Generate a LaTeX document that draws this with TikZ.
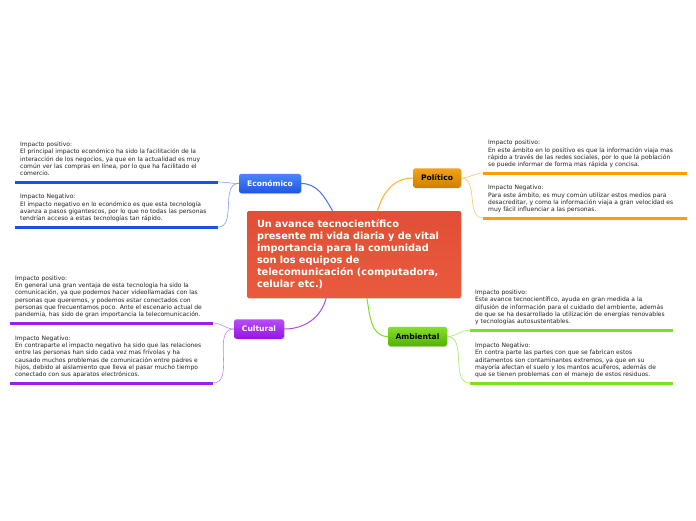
\documentclass[tikz,border=0pt]{standalone}
\usepackage{fontspec}
\setmainfont{DejaVu Sans}
\usetikzlibrary{calc,shadows}
\definecolor{hubtop}{HTML}{E24E37}
\definecolor{hubbot}{HTML}{EA5A3E}
\definecolor{ecotop}{HTML}{4A86FA}
\definecolor{ecobot}{HTML}{1F55E6}
\definecolor{poltop}{HTML}{F2A21C}
\definecolor{polbot}{HTML}{D27F00}
\definecolor{cultop}{HTML}{B84CFA}
\definecolor{culbot}{HTML}{9414E6}
\definecolor{ambtop}{HTML}{86E02A}
\definecolor{ambbot}{HTML}{55B000}
\definecolor{ecoline}{HTML}{1E4FE8}
\definecolor{polline}{HTML}{FF9C00}
\definecolor{culline}{HTML}{9C1EEC}
\definecolor{ambline}{HTML}{7BE21F}
\definecolor{ink}{HTML}{222222}
\tikzset{
  hub/.style={top color=hubtop, bottom color=hubbot, draw=none, rounded corners=1.5pt, text=white, align=left,
    font=\fontsize{9.8}{12}\selectfont\bfseries, minimum width=214pt, minimum height=87pt, text width=194pt, inner xsep=10pt,
    drop shadow={opacity=0.25, shadow xshift=0.8pt, shadow yshift=-0.8pt}},
  branch/.style={draw=none, rounded corners=2.5pt, inner sep=0pt, minimum height=19.5pt,
    font=\fontsize{7.6}{9}\selectfont\bfseries, drop shadow={opacity=0.25, shadow xshift=0.8pt, shadow yshift=-0.8pt}},
  leaf/.style={font=\fontsize{6}{7.25}\selectfont, text=ink, align=left, anchor=south west, inner xsep=5pt, inner ysep=4pt,
    execute at end node={\strut}},
  ul/.style={line width=3pt},
  link/.style={line width=1pt},
  twig/.style={line width=0.6pt},
}
\begin{document}
\begin{tikzpicture}[x=1pt, y=-1pt]
  \fill[white] (0,0) rectangle (696,520);
  \useasboundingbox (0,0) rectangle (696,520);
  % centre
  \node[hub] (hub) at (354,254.5) {Un avance tecnocientífico\\presente mi vida diaria y de vital\\importancia para la comunidad\\son los equipos de\\telecomunicación (computadora,\\celular etc.)};
  \coordinate (hub-eco) at ($(hub.north west)!0.40!(hub.north east)$);
  \coordinate (hub-pol) at ($(hub.north west)!0.61!(hub.north east)$);
  \coordinate (hub-cul) at ($(hub.south west)!0.37!(hub.south east)$);
  \coordinate (hub-amb) at ($(hub.south west)!0.56!(hub.south east)$);
  % branches
  \node[branch, top color=ecotop, bottom color=ecobot, text=white, minimum width=62pt] (eco) at (270,183.5) {Económico};
  \node[branch, top color=poltop, bottom color=polbot, text=black, minimum width=48pt] (pol) at (437,178) {Político};
  \node[branch, top color=cultop, bottom color=culbot, text=white, minimum width=50pt] (cul) at (259,329) {Cultural};
  \node[branch, top color=ambtop, bottom color=ambbot, text=black, minimum width=59pt] (amb) at (417.5,336.5) {Ambiental};
  % leaves: económico
  \node[leaf] (ep) at (15,182) {Impacto positivo:\\El principal impacto económico ha sido la facilitación de la\\interacción de los negocios, ya que en la actualidad es muy\\común ver las compras en línea, por lo que ha facilitado el\\comercio.};
  \node[leaf] (en) at (15,227) {Impacto Negativo:\\El impacto negativo en lo económico es que esta tecnología\\avanza a pasos gigantescos, por lo que no todas las personas\\tendrían acceso a estas tecnologías tan rápido.};
  % leaves: político
  \node[leaf] (pp) at (483,173) {Impacto positivo:\\En este ámbito en lo positivo es que la información viaja mas\\rápido a través de las redes sociales, por lo que la población\\se puede informar de forma mas rápida y concisa.};
  \node[leaf] (pn) at (483,218) {Impacto Negativo:\\Para este ámbito, es muy común utilizar estos medios para\\desacreditar, y como la información viaja a gran velocidad es\\muy fácil influenciar a las personas.};
  % leaves: cultural
  \node[leaf] (cp) at (10,323) {Impacto positivo:\\En general una gran ventaja de esta tecnología ha sido la\\comunicación, ya que podemos hacer videollamadas con las\\personas que queremos, y podemos estar conectados con\\personas que frecuentamos poco. Ante el escenario actual de\\pandemia, has sido de gran importancia la telecomunicación.};
  \node[leaf] (cn) at (10,383) {Impacto Negativo:\\En contraparte el impacto negativo ha sido que las relaciones\\entre las personas han sido cada vez mas frívolas y ha\\causado muchos problemas de comunicación entre padres e\\hijos, debido al aislamiento que lleva el pasar mucho tiempo\\conectado con sus aparatos electrónicos.};
  % leaves: ambiental
  \node[leaf] (ap) at (470,330) {Impacto positivo:\\Este avance tecnocientífico, ayuda en gran medida a la\\difusión de información para el cuidado del ambiente, además\\de que se ha desarrollado la utilización de energías renovables\\y tecnologías autosustentables.};
  \node[leaf] (an) at (470,383) {Impacto Negativo:\\En contra parte las partes con que se fabrican estos\\aditamentos son contaminantes extremos, ya que en su\\mayoría afectan el suelo y los mantos acuíferos, además de\\que se tienen problemas con el manejo de estos residuos.};
  % underlines
  \draw[ul, ecoline] (ep.south west) -- ++(203,0) coordinate (ep-e);
  \draw[ul, ecoline] (en.south west) -- ++(203,0) coordinate (en-e);
  \draw[ul, polline] (pp.south west) -- ++(204,0);
  \draw[ul, polline] (pn.south west) -- ++(204,0);
  \draw[ul, culline] (cp.south west) -- ++(203,0) coordinate (cp-e);
  \draw[ul, culline] (cn.south west) -- ++(203,0) coordinate (cn-e);
  \draw[ul, ambline] (ap.south west) -- ++(203,0);
  \draw[ul, ambline] (an.south west) -- ++(203,0);
  % links from the centre
  \draw[link, ecoline!80] (eco.east) to[out=0, in=120] (hub-eco);
  \draw[link, polline!80] (hub-pol) to[out=75, in=180] (pol.west);
  \draw[link, culline!80] (hub-cul) to[out=-105, in=0] (cul.east);
  \draw[link, ambline] (hub-amb) to[out=-80, in=180] (amb.west);
  % twigs to the leaves
  \draw[twig, ecoline!55] (eco.west) to[out=180, in=0] (ep-e);
  \draw[twig, ecoline!55] (eco.west) to[out=180, in=0] (en-e);
  \draw[twig, polline!60] (pol.east) to[out=0, in=180] (pp.south west);
  \draw[twig, polline!60] (pol.east) to[out=0, in=180] (pn.south west);
  \draw[twig, culline!55] (cul.west) to[out=180, in=0] (cp-e);
  \draw[twig, culline!55] (cul.west) to[out=180, in=0] (cn-e);
  \draw[twig, ambline!70] (amb.east) to[out=0, in=180] (ap.south west);
  \draw[twig, ambline!70] (amb.east) to[out=0, in=180] (an.south west);
\end{tikzpicture}
\end{document}
